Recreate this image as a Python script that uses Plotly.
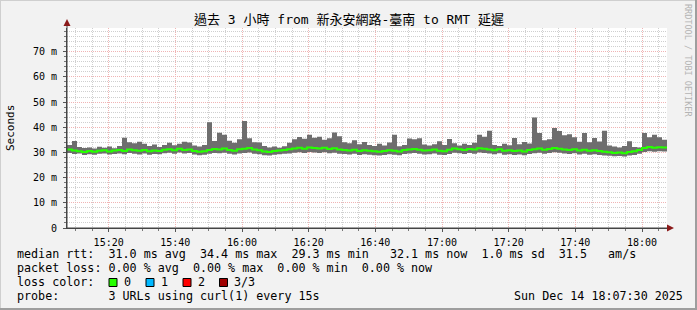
import pandas as pd
import plotly.graph_objects as go

# ---------------- data (ms), one value per 90 s bin ----------------
start_time = "2025-12-14 15:07:30"
bin_seconds = 90

max_ms = [
    33.0, 34.5, 32.2, 31.8, 32.0, 31.6, 32.3, 31.9, 32.4, 31.7,
    32.6, 35.8, 34.0, 33.6, 34.2, 33.4, 32.6, 33.1, 32.2, 33.0,
    33.8, 32.9, 33.4, 34.2, 33.9, 32.8, 32.4, 33.0, 42.0, 34.5,
    37.8, 37.0, 34.6, 33.8, 35.2, 42.5, 35.6, 34.0, 33.9, 32.6,
    32.0, 32.4, 31.9, 32.5, 33.8, 35.2, 36.1, 35.4, 37.0, 35.8,
    36.2, 35.0, 35.6, 37.9, 36.4, 34.0, 33.6, 34.8, 33.2, 34.1,
    33.0, 32.6, 33.4, 32.8, 33.9, 37.0, 32.5, 33.0, 35.5, 35.2,
    35.6, 33.1, 32.8, 33.2, 34.4, 33.0, 35.3, 33.6, 32.8, 33.4,
    33.0, 33.8, 37.0, 36.2, 38.6, 33.0, 32.6, 33.4, 32.9, 35.7,
    33.2, 34.1, 33.5, 43.9, 37.7, 34.8, 35.2, 39.7, 38.5, 36.8,
    37.2, 36.0, 34.2, 37.7, 34.0, 35.7, 34.3, 38.6, 32.8, 32.4,
    32.0, 32.6, 34.4, 32.2, 32.0, 37.7, 36.0, 37.0, 36.0, 35.0,
]
median_ms = [
    31.2, 30.8, 30.5, 30.2, 30.6, 30.3, 30.7, 30.9, 30.4, 30.8,
    31.0, 30.6, 31.2, 30.9, 30.7, 31.0, 30.5, 30.8, 30.6, 31.1,
    31.3, 30.9, 31.5, 31.0, 31.2, 30.6, 30.3, 30.5, 31.0, 31.4,
    31.2, 31.6, 31.0, 30.7, 31.3, 31.5, 31.8, 31.2, 30.9, 30.4,
    30.2, 30.6, 30.8, 31.0, 31.3, 31.6, 31.9, 31.5, 32.0, 31.8,
    31.6, 31.9, 31.4, 31.7, 31.2, 31.0, 30.8, 31.1, 30.6, 30.9,
    30.7, 30.5, 30.3, 30.6, 30.9, 30.7, 30.4, 31.0, 31.2, 31.4,
    31.1, 30.8, 30.9, 31.2, 30.7, 30.5, 31.1, 31.6, 31.3, 31.0,
    31.4, 31.2, 31.7, 31.5, 31.2, 30.9, 31.3, 30.7, 30.9, 30.6,
    30.8, 30.4, 31.0, 31.3, 31.6, 31.1, 31.4, 31.8, 31.5, 31.2,
    31.0, 31.3, 30.8, 31.1, 30.7, 30.9, 30.6, 30.3, 30.1, 29.8,
    30.0, 29.7, 30.2, 30.5, 31.0, 31.8, 32.2, 31.9, 32.1, 32.0,
]
min_ms = [
    29.8, 29.4, 29.6, 29.0, 29.3, 29.1, 29.5, 29.6, 29.2, 29.4,
    29.6, 29.3, 29.8, 29.5, 29.2, 29.6, 29.1, 29.4, 29.3, 29.7,
    29.9, 29.5, 30.0, 29.6, 29.8, 29.2, 28.9, 29.1, 29.5, 29.8,
    29.7, 29.9, 29.5, 29.2, 29.6, 29.8, 30.0, 29.5, 29.3, 28.9,
    28.8, 29.1, 29.3, 29.5, 29.6, 29.9, 30.1, 29.8, 30.2, 30.0,
    29.8, 30.1, 29.7, 29.9, 29.5, 29.4, 29.2, 29.5, 29.0, 29.3,
    29.1, 28.9, 28.8, 29.0, 29.3, 29.1, 28.9, 29.4, 29.6, 29.8,
    29.5, 29.2, 29.3, 29.6, 29.1, 29.0, 29.4, 29.9, 29.7, 29.4,
    29.8, 29.5, 30.0, 29.8, 29.6, 29.3, 29.7, 29.1, 29.3, 29.0,
    29.2, 28.9, 29.4, 29.7, 29.9, 29.5, 29.8, 30.1, 29.9, 29.6,
    29.4, 29.7, 29.2, 29.5, 29.1, 29.3, 29.0, 28.8, 28.7, 28.5,
    28.6, 28.4, 28.8, 29.0, 29.5, 30.2, 30.5, 30.3, 30.5, 30.4,
]

y_tick_vals = [0, 10, 20, 30, 40, 50, 60, 70]
y_tick_text = ["0", "10 m", "20 m", "30 m", "40 m", "50 m", "60 m", "70 m"]

title_text = "過去 3 小時 from 新永安網路-臺南 to RMT 延遲"
legend_line1 = "median rtt:  31.0 ms avg  34.4 ms max  29.3 ms min   32.1 ms now  1.0 ms sd  31.5   am/s"
legend_line2 = "packet loss: 0.00 % avg  0.00 % max  0.00 % min  0.00 % now"
legend_line3 = "loss color:"
legend_line4 = "probe:       3 URLs using curl(1) every 15s"
legend_date = "Sun Dec 14 18:07:30 2025"
loss_labels = ["0", "1", "2", "3/3"]
loss_colors = ["#26ff00", "#00b8ff", "#ff0000", "#a00000"]

# ---------------- figure ----------------
W, H = 697, 310
PL, PT, PW, PH = 67, 28, 600, 200


def px(x):
    return (x - PL) / PW


def py(y):
    return (PT + PH - y) / PH


def nb(s):
    return s.replace(" ", "\u00a0")


times = pd.date_range(start_time, periods=len(max_ms) + 1, freq=f"{bin_seconds}s")
mx = max_ms + [max_ms[-1]]
md = median_ms + [median_ms[-1]]
mn = min_ms + [min_ms[-1]]

MONO = "DejaVu Sans Mono, Noto Sans CJK TC, monospace"

fig = go.Figure()
fig.add_trace(go.Scatter(x=times, y=mn, mode="lines", line=dict(width=0, shape="hv"),
                         hoverinfo="skip", showlegend=False))
fig.add_trace(go.Scatter(x=times, y=mx, mode="lines", line=dict(width=0, shape="hv"),
                         fill="tonexty", fillcolor="#6e6e6e", hoverinfo="skip", showlegend=False))
fig.add_trace(go.Scatter(x=times, y=md, mode="lines", line=dict(width=2, color="#26ff00", shape="hv"),
                         hoverinfo="skip", showlegend=False))

fig.update_layout(
    width=W, height=H, autosize=False,
    margin=dict(l=PL, r=W - PL - PW, t=PT, b=H - PT - PH, pad=0),
    paper_bgcolor="#f2f2f2", plot_bgcolor="#ffffff",
    font=dict(family=MONO, size=10, color="#000000"),
    showlegend=False,
)
fig.update_xaxes(
    range=[times[0], times[-1]],
    tick0="2025-12-14 15:20:00", dtick=20 * 60 * 1000, tickformat="%H:%M",
    showgrid=True, gridcolor="#f0b4b4", griddash="1px,1px", gridwidth=1,
    ticks="outside", ticklen=3, tickcolor="#555555", ticklabelstandoff=2,
    showline=True, linecolor="#444444", linewidth=1,
    tickfont=dict(family=MONO, size=10),
    minor=dict(dtick=5 * 60 * 1000, tick0="2025-12-14 15:20:00", showgrid=True,
               gridcolor="#cfcfcf", griddash="1px,1px", ticks="outside", ticklen=2,
               tickcolor="#777777"),
    fixedrange=True,
)
fig.update_yaxes(
    range=[0, 79.4],
    tickvals=y_tick_vals, ticktext=y_tick_text,
    showgrid=True, gridcolor="#f0b4b4", griddash="1px,1px", gridwidth=1,
    zeroline=False,
    ticks="outside", ticklen=3, tickcolor="#555555", ticklabelstandoff=4,
    showline=True, linecolor="#444444", linewidth=1,
    tickfont=dict(family=MONO, size=10),
    minor=dict(dtick=2, showgrid=True, gridcolor="#cfcfcf", griddash="1px,1px",
               ticks="outside", ticklen=2, tickcolor="#777777"),
    fixedrange=True,
)

shapes = []
# frame (rrdtool shade)
shapes.append(dict(type="line", xref="paper", yref="paper", x0=px(0), x1=px(W), y0=py(0.5), y1=py(0.5),
                   line=dict(color="#cfcfcf", width=1)))
shapes.append(dict(type="line", xref="paper", yref="paper", x0=px(0.5), x1=px(0.5), y0=py(0), y1=py(H),
                   line=dict(color="#cfcfcf", width=1)))
shapes.append(dict(type="rect", xref="paper", yref="paper", x0=px(0), x1=px(W), y0=py(H - 2), y1=py(H),
                   fillcolor="#9e9e9e", line=dict(width=0)))
shapes.append(dict(type="rect", xref="paper", yref="paper", x0=px(W - 2), x1=px(W), y0=py(0), y1=py(H),
                   fillcolor="#9e9e9e", line=dict(width=0)))
# axis extensions + arrows
shapes.append(dict(type="line", xref="paper", yref="paper", x0=px(67), x1=px(67), y0=py(228), y1=py(22),
                   line=dict(color="#444444", width=1)))
shapes.append(dict(type="line", xref="paper", yref="paper", x0=px(67), x1=px(672), y0=py(228), y1=py(228),
                   line=dict(color="#444444", width=1)))
shapes.append(dict(type="path", xref="paper", yref="paper",
                   path=f"M {px(63.5)} {py(26)} L {px(70.5)} {py(26)} L {px(67)} {py(19)} Z",
                   fillcolor="#8b1a1a", line=dict(width=0)))
shapes.append(dict(type="path", xref="paper", yref="paper",
                   path=f"M {px(667)} {py(224.5)} L {px(667)} {py(231.5)} L {px(674)} {py(228)} Z",
                   fillcolor="#8b1a1a", line=dict(width=0)))

annotations = []
annotations.append(dict(text=title_text, xref="paper", yref="paper", x=px(348.5), y=py(20),
                        xanchor="center", yanchor="middle", showarrow=False,
                        font=dict(family=MONO, size=13, color="#000000")))
annotations.append(dict(text="Seconds", xref="paper", yref="paper", x=px(10), y=py(128),
                        xanchor="center", yanchor="middle", showarrow=False, textangle=-90,
                        font=dict(family=MONO, size=11, color="#000000")))
annotations.append(dict(text="RRDTOOL / TOBI OETIKER", xref="paper", yref="paper", x=px(688), y=py(60),
                        xanchor="center", yanchor="middle", showarrow=False, textangle=90,
                        font=dict(family=MONO, size=8.5, color="#b4b4b4")))

legend_items = [
    (legend_line1, 16, 254), (legend_line2, 16, 268), (legend_line3, 16, 282),
    (legend_line4, 16, 296), (legend_date, 513, 296),
]
for text, xx, yy in legend_items:
    annotations.append(dict(text=nb(text), xref="paper", yref="paper", x=px(xx), y=py(yy),
                            xanchor="left", yanchor="middle", showarrow=False, borderpad=0,
                            font=dict(family=MONO, size=11.7, color="#000000")))

box_x = [109, 146, 183, 219.5]
lab_x = [123, 160, 197, 233]
for bx, lx, lab, col in zip(box_x, lab_x, loss_labels, loss_colors):
    shapes.append(dict(type="rect", xref="paper", yref="paper", x0=px(bx), x1=px(bx + 8),
                       y0=py(278.5), y1=py(286.5), fillcolor=col, line=dict(color="#000000", width=1)))
    annotations.append(dict(text=lab, xref="paper", yref="paper", x=px(lx), y=py(282),
                            xanchor="left", yanchor="middle", showarrow=False, borderpad=0,
                            font=dict(family=MONO, size=11.7, color="#000000")))

fig.update_layout(shapes=shapes, annotations=annotations)
fig.write_html("out.html")
